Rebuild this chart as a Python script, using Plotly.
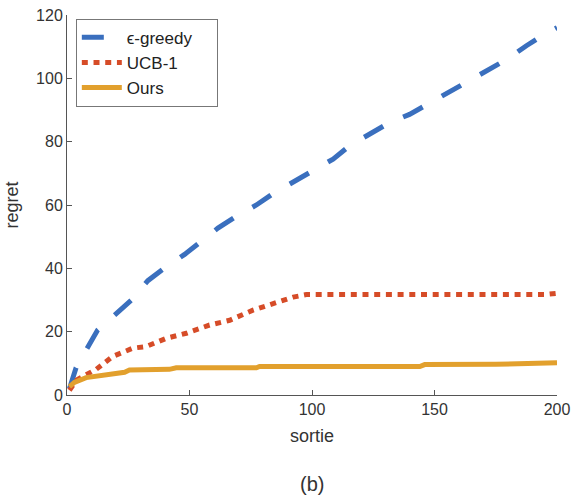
import plotly.graph_objects as go

# epsilon-greedy
eg_x = [1, 3.7, 12.5, 20, 26.2, 33, 39.1, 48, 54.1, 61.6, 69.1, 77.3, 84.1, 92.3, 100.5, 108.6,
        115.3, 123.5, 131.6, 139.8, 148, 155.4, 164.3, 171.8, 180, 187.5, 195, 200]
eg_y = [2, 8.6, 20.5, 25.7, 29.9, 36.1, 39.7, 44.4, 48, 52.7, 56.4, 60, 63.6, 67.3, 70.9, 74.5,
        78.7, 82.3, 86, 88.6, 92.2, 95.8, 99.5, 103, 106.2, 110.3, 114, 116]

# UCB-1
ucb_x = [1, 4, 11.9, 18.7, 26.9, 32.3, 40.5, 48.7, 58.2, 66.4, 75.9, 84.1, 92.3, 97.7, 150, 195, 200]
ucb_y = [1.5, 4.8, 8.1, 12.2, 14.8, 15.3, 17.9, 19.5, 22.1, 23.6, 26.8, 28.8, 30.9, 31.7, 31.7, 31.7, 32.1]

# Ours
ours_x = [1, 3, 7.8, 16, 23.5, 25.5, 41.8, 44.6, 77.3, 78.6, 144, 146, 175, 200]
ours_y = [2.6, 4.0, 5.5, 6.5, 7.2, 7.9, 8.1, 8.6, 8.6, 9.0, 9.0, 9.6, 9.7, 10.2]

series_names = ["\u03f5-greedy", "UCB-1", "Ours"]
pad = "\u00a0\u00a0\u00a0\u00a0"

fig = go.Figure()
fig.add_trace(go.Scatter(x=eg_x, y=eg_y, mode="lines", name=series_names[0] + pad,
                         line=dict(color="rgb(58,111,190)", width=5, dash="22px,22px")))
fig.add_trace(go.Scatter(x=ucb_x, y=ucb_y, mode="lines", name=series_names[1] + pad,
                         line=dict(color="rgb(214,76,40)", width=5, dash="6px,5.7px")))
fig.add_trace(go.Scatter(x=ours_x, y=ours_y, mode="lines", name=series_names[2] + pad,
                         line=dict(color="rgb(226,160,45)", width=5)))

font_family = "Liberation Sans, Arial, sans-serif"
axis_common = dict(
    showline=True, linecolor="#555555", linewidth=1,
    ticks="inside", ticklen=5, tickcolor="#555555",
    showgrid=False, zeroline=False, mirror=False, automargin=False,
    tickfont=dict(size=16, color="#333333", family=font_family),
)

fig.update_layout(
    width=572, height=499,
    paper_bgcolor="white", plot_bgcolor="white",
    margin=dict(l=67, r=15, t=15, b=104),
    font=dict(family=font_family, color="#333333"),
    xaxis=dict(range=[0, 200], tickvals=[0, 50, 100, 150, 200],
               title=dict(text="sortie", font=dict(size=18, color="#333333"), standoff=12),
               **axis_common),
    yaxis=dict(range=[0, 120], tickvals=[0, 20, 40, 60, 80, 100, 120],
               title=dict(text="regret", font=dict(size=18, color="#333333"), standoff=12),
               **axis_common),
    legend=dict(x=0.018, y=0.99, xanchor="left", yanchor="top",
                bgcolor="white", bordercolor="#777777", borderwidth=1,
                font=dict(size=17, color="#222222", family=font_family),
                tracegroupgap=0, itemwidth=40),
    showlegend=True,
)

fig.add_annotation(text="(b)", xref="paper", yref="paper", x=0.5, y=0,
                   yshift=-89, xanchor="center", yanchor="middle",
                   showarrow=False, font=dict(size=20, color="#333333", family=font_family))

fig.write_html("out.html")
